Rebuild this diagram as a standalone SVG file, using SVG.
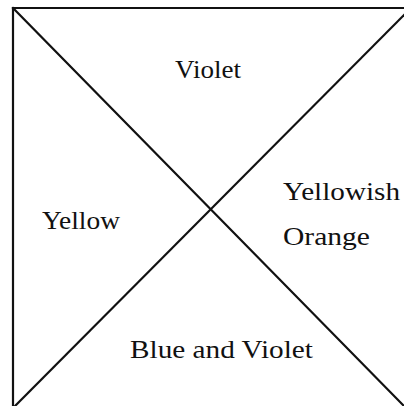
<svg xmlns="http://www.w3.org/2000/svg" width="404" height="406" viewBox="0 0 404 406">
<style>
.ln{stroke:#111;stroke-width:2.2;fill:none;stroke-linecap:square}
.lb{font-family:"Liberation Serif","Times New Roman",serif;font-size:24.5px;fill:#111}
</style>
<rect width="404" height="406" fill="#fff"/>
<g id="connectors">
<polyline class="ln" points="13,406 13,8 404,8"/>
<line class="ln" x1="13" y1="8" x2="404" y2="406"/>
<line class="ln" x1="15" y1="406" x2="411" y2="8"/>
</g>
<g id="violet"><text class="lb" x="175" y="78" textLength="66" lengthAdjust="spacingAndGlyphs">Violet</text></g>
<g id="yellow"><text class="lb" x="42" y="229" textLength="78" lengthAdjust="spacingAndGlyphs">Yellow</text></g>
<g id="yellowish-orange">
<text class="lb" x="283" y="200" textLength="117" lengthAdjust="spacingAndGlyphs">Yellowish</text>
<text class="lb" x="283" y="245" textLength="87" lengthAdjust="spacingAndGlyphs">Orange</text>
</g>
<g id="blue-violet"><text class="lb" x="130" y="358" textLength="183" lengthAdjust="spacingAndGlyphs">Blue and Violet</text></g>
</svg>
